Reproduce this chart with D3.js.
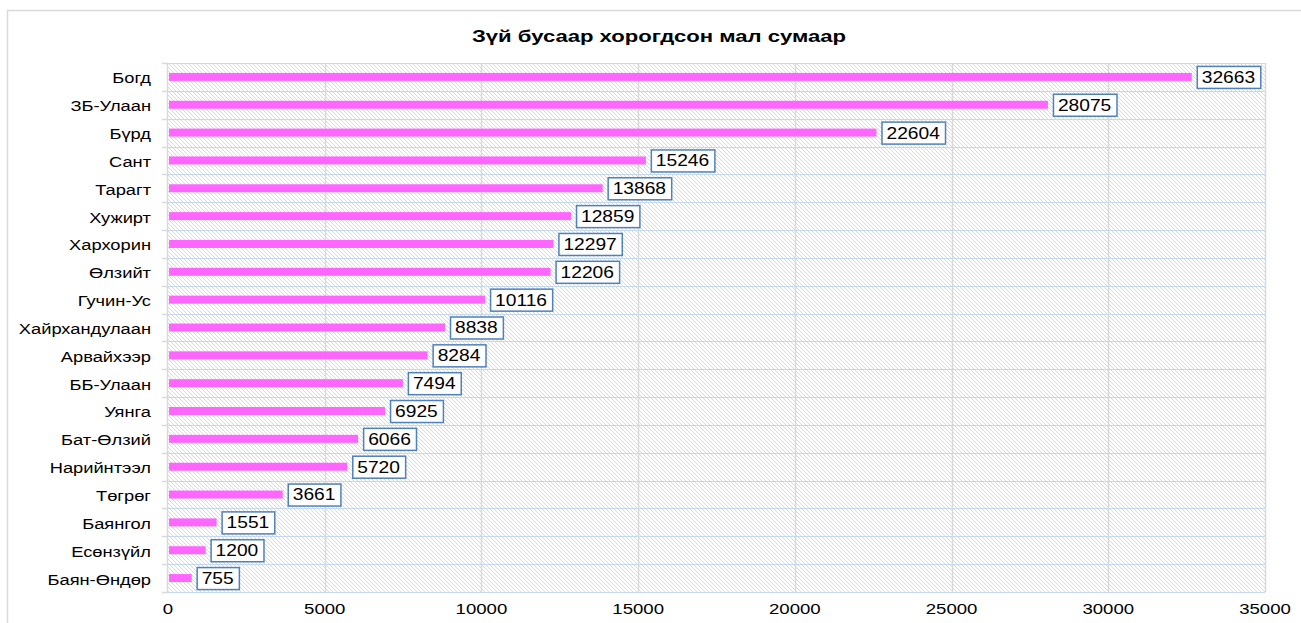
<!DOCTYPE html>
<html>
<head>
<meta charset="utf-8">
<style>
  body { margin: 0; background: #fff; }
  svg { display: block; font-family: "Liberation Sans", Arial, sans-serif; }
</style>
</head>
<body>
<svg width="1301" height="623"></svg>
<script src="https://d3js.org/d3.v7.min.js"></script>
<script>

var soums = ["Богд", "ЗБ-Улаан", "Бүрд", "Сант", "Тарагт", "Хужирт", "Хархорин", "Өлзийт",
  "Гучин-Ус", "Хайрхандулаан", "Арвайхээр", "ББ-Улаан", "Уянга", "Бат-Өлзий", "Нарийнтээл",
  "Төгрөг", "Баянгол", "Есөнзүйл", "Баян-Өндөр"];
var livestock = [32663, 28075, 22604, 15246, 13868, 12859, 12297, 12206, 10116, 8838, 8284,
  7494, 6925, 6066, 5720, 3661, 1551, 1200, 755];
var xTicks = [0, 5000, 10000, 15000, 20000, 25000, 30000, 35000];
var title = "Зүй бусаар хорогдсон мал сумаар";

var svg = d3.select("svg"),
    margin = {top: 63, right: 36, bottom: 31, left: 168},
    width = +svg.attr("width") - margin.left - margin.right,
    height = +svg.attr("height") - margin.top - margin.bottom;

// text in the original is a little wider than it is tall
var stretch = 1.2;

// outer frame
svg.append("path")
    .attr("d", "M7.5,623 V10.5 H1301")
    .attr("fill", "none")
    .attr("stroke", "#d9d9d9")
    .attr("stroke-width", 1.5);

svg.append("text")
    .attr("transform", "translate(659,42) scale(1.3,1)")
    .attr("text-anchor", "middle")
    .attr("font-size", 17)
    .attr("font-weight", "bold")
    .attr("fill", "#000")
    .text(title);

var defs = svg.append("defs");
var pat = defs.append("pattern")
    .attr("id", "hatch")
    .attr("patternUnits", "userSpaceOnUse")
    .attr("width", 4)
    .attr("height", 4);
pat.append("rect").attr("width", 4).attr("height", 4).attr("fill", "#fff");
pat.append("path")
    .attr("d", "M-1,-1 L5,5 M-1,3 L1,5 M3,-1 L5,1")
    .attr("stroke", "#d9d9d9")
    .attr("stroke-width", 1);

var g = svg.append("g").attr("transform", "translate(" + margin.left + "," + margin.top + ")");

var x = d3.scaleLinear().domain([0, 35000]).range([0, width]);
var y = d3.scaleBand().domain(soums).range([0, height]);

g.append("rect")
    .attr("width", width)
    .attr("height", height)
    .attr("fill", "url(#hatch)");

// vertical grid
g.append("g")
  .selectAll("line")
  .data(xTicks.slice(1))
  .enter().append("line")
    .attr("x1", function(d) { return Math.round(x(d)) + 0.5; })
    .attr("x2", function(d) { return Math.round(x(d)) + 0.5; })
    .attr("y1", 0)
    .attr("y2", height)
    .attr("stroke", "#d9d9d9")
    .attr("stroke-width", 1.5);

// horizontal grid at band boundaries
var bounds = soums.map(function(d) { return y(d); }).concat([height]);
g.append("g")
  .selectAll("line")
  .data(bounds)
  .enter().append("line")
    .attr("x1", 0)
    .attr("x2", width)
    .attr("y1", function(d) { return Math.round(d) + 0.5; })
    .attr("y2", function(d) { return Math.round(d) + 0.5; })
    .attr("stroke", "#c6d9f0")
    .attr("stroke-width", 1.2);

// y axis line and ticks
g.append("line")
    .attr("x1", -0.5).attr("x2", -0.5)
    .attr("y1", 0).attr("y2", height)
    .attr("stroke", "#d9d9d9")
    .attr("stroke-width", 1.5);
g.append("g")
  .selectAll("line")
  .data(bounds)
  .enter().append("line")
    .attr("x1", -6)
    .attr("x2", 0)
    .attr("y1", function(d) { return Math.round(d) + 0.5; })
    .attr("y2", function(d) { return Math.round(d) + 0.5; })
    .attr("stroke", "#d9d9d9")
    .attr("stroke-width", 1.5);

g.append("g")
  .selectAll("text")
  .data(soums)
  .enter().append("text")
    .attr("transform", function(d) {
      return "translate(-17," + (y(d) + y.bandwidth() / 2 + 1) + ") scale(1.18,1)";
    })
    .attr("dy", "0.35em")
    .attr("text-anchor", "end")
    .attr("font-size", 15.5)
    .attr("fill", "#000")
    .text(function(d) { return d; });

// x axis labels
g.append("g")
  .selectAll("text")
  .data(xTicks)
  .enter().append("text")
    .attr("transform", function(d) {
      return "translate(" + x(d) + "," + (height + 22) + ") scale(" + stretch + ",1)";
    })
    .attr("text-anchor", "middle")
    .attr("font-size", 15.5)
    .attr("fill", "#000")
    .text(function(d) { return d; });

// bars
var barH = 8;
g.append("g")
  .selectAll("rect")
  .data(livestock)
  .enter().append("rect")
    .attr("x", 1)
    .attr("y", function(d, i) { return y(soums[i]) + y.bandwidth() / 2 - barH / 2; })
    .attr("width", function(d) { return x(d) - 1; })
    .attr("height", barH)
    .attr("fill", "#ff66ff");

// value labels in boxes
var lab = g.append("g")
  .selectAll("g")
  .data(livestock)
  .enter().append("g")
    .attr("transform", function(d, i) {
      return "translate(" + (x(d) + 5) + "," + (y(soums[i]) + y.bandwidth() / 2) + ")";
    });

lab.append("text")
    .attr("transform", "translate(5,0) scale(" + stretch + ",1)")
    .attr("dy", "0.37em")
    .attr("font-size", 16)
    .attr("fill", "#000")
    .text(function(d) { return d; });

lab.each(function() {
  var t = d3.select(this).select("text").node().getBBox();
  d3.select(this).insert("rect", "text")
    .attr("x", 0.5)
    .attr("y", -10.5)
    .attr("width", t.width * stretch + 10)
    .attr("height", 22)
    .attr("fill", "#fff")
    .attr("stroke", "#4f81bd")
    .attr("stroke-width", 1.5);
});

</script>
</body>
</html>
